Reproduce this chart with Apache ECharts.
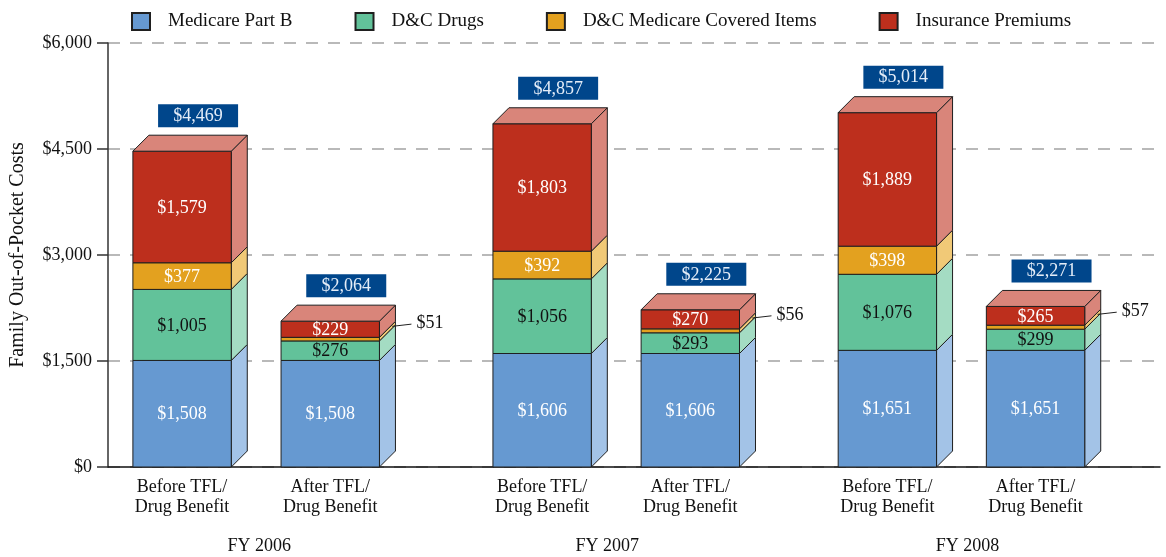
<!DOCTYPE html>
<html>
<head>
<meta charset="utf-8">
<script src="https://cdn.jsdelivr.net/npm/echarts@6/dist/echarts.min.js"></script>
<style>
    html, body { margin: 0; padding: 0; background: #fff; }
    #chart { width: 1166px; height: 557px; }
</style>
</head>
<body>
<div id="chart"></div>
<script>
var FONT = '"Liberation Serif", "DejaVu Serif", serif';

// bars, left to right
var barLabels = ['Before TFL/\nDrug Benefit', 'After TFL/\nDrug Benefit',
                 'Before TFL/\nDrug Benefit', 'After TFL/\nDrug Benefit',
                 'Before TFL/\nDrug Benefit', 'After TFL/\nDrug Benefit'];
var barPos = [0.5, 1.5, 2.93, 3.93, 5.26, 6.26];

var years = ['FY 2006', 'FY 2007', 'FY 2008'];
var yearPos = [1.02, 3.37, 5.8];

// stacked values, bottom to top
var partB    = [1508, 1508, 1606, 1606, 1651, 1651];
var drugs    = [1005, 276, 1056, 293, 1076, 299];
var covered  = [377, 51, 392, 56, 398, 57];
var premiums = [1579, 229, 1803, 270, 1889, 265];
var totals   = [4469, 2064, 4857, 2225, 5014, 2271];

var seriesNames = ['Medicare Part B', 'D&C Drugs', 'D&C Medicare Covered Items', 'Insurance Premiums'];
var seriesValues = [partB, drugs, covered, premiums];
var frontColors = ['#6699d1', '#62c29a', '#e3a11f', '#bd2f1d'];
var sideColors  = ['#a3c3e7', '#a4dcc3', '#f1c977', '#d9857a'];
var labelColors = ['#ffffff', '#111111', '#ffffff', '#ffffff'];

var D = 16;          // depth of the 3d faces, px
var BAR_W = 0.664;   // bar width in x units
var EDGE = '#1f1f1f';

function money(v) {
    return '$' + v.toLocaleString('en-US');
}

function segmentRenderer(s) {
    return function (params, api) {
        var x = api.value(0), lo = api.value(1), hi = api.value(2), v = api.value(3);
        var pLo = api.coord([x, lo]);
        var pHi = api.coord([x, hi]);
        var w = api.size([BAR_W, 0])[0];
        var l = pLo[0] - w / 2, r = pLo[0] + w / 2, b = pLo[1], t = pHi[1];
        var kids = [
            {
                type: 'polygon',
                shape: { points: [[r, b], [r + D, b - D], [r + D, t - D], [r, t]] },
                style: { fill: sideColors[s], stroke: EDGE, lineWidth: 1 }
            },
            {
                type: 'rect',
                shape: { x: l, y: t, width: w, height: b - t },
                style: { fill: frontColors[s], stroke: EDGE, lineWidth: 1 }
            }
        ];
        if (s === seriesValues.length - 1) {
            kids.push({
                type: 'polygon',
                shape: { points: [[l, t], [l + D, t - D], [r + D, t - D], [r, t]] },
                style: { fill: sideColors[s], stroke: EDGE, lineWidth: 1 }
            });
        }
        var mid = (b + t) / 2;
        if (b - t >= 14) {
            kids.push({
                type: 'text',
                style: {
                    text: money(v), x: (l + r) / 2, y: mid + 1,
                    align: 'center', verticalAlign: 'middle',
                    fill: labelColors[s], fontSize: 18, fontFamily: FONT
                }
            });
        } else {
            // small slice: label out to the right with a leader line
            kids.push({
                type: 'line',
                shape: { x1: r + D * 0.8, y1: mid - D * 0.8, x2: r + 32, y2: mid - 15 },
                style: { stroke: '#222', lineWidth: 1 }
            });
            kids.push({
                type: 'text',
                style: {
                    text: money(v), x: r + 37, y: mid - 16,
                    align: 'left', verticalAlign: 'middle',
                    fill: '#111', fontSize: 18, fontFamily: FONT
                }
            });
        }
        return { type: 'group', children: kids };
    };
}

var series = seriesNames.map(function (name, s) {
    var data = barPos.map(function (x, i) {
        var base = 0;
        for (var k = 0; k < s; k++) base += seriesValues[k][i];
        return [x, base, base + seriesValues[s][i], seriesValues[s][i]];
    });
    return {
        name: name,
        type: 'custom',
        renderItem: segmentRenderer(s),
        itemStyle: { color: frontColors[s], borderColor: EDGE, borderWidth: 1 },
        encode: { x: 0, y: [1, 2] },
        data: data,
        z: 3
    };
});

// totals boxes above the bars
series.push({
    name: 'totals',
    type: 'custom',
    z: 4,
    encode: { x: 0, y: 1 },
    data: barPos.map(function (x, i) { return [x, totals[i]]; }),
    renderItem: function (params, api) {
        var p = api.coord([api.value(0), api.value(1)]);
        var cx = p[0] + D, bottom = p[1] - D - 8;
        return {
            type: 'group',
            children: [
                { type: 'rect', shape: { x: cx - 40, y: bottom - 23, width: 80, height: 23 },
                  style: { fill: '#00468b' } },
                { type: 'text', style: {
                    text: money(api.value(1)), x: cx, y: bottom - 11,
                    align: 'center', verticalAlign: 'middle',
                    fill: '#e4edf8', fontSize: 18, fontFamily: FONT } }
            ]
        };
    }
});

// category labels under each bar
series.push({
    name: 'barLabels',
    type: 'custom',
    encode: { x: 0, y: 1 },
    data: barPos.map(function (x, i) { return [x, 0, i]; }),
    renderItem: function (params, api) {
        var p = api.coord([api.value(0), 0]);
        return {
            type: 'text',
            style: {
                text: barLabels[api.value(2)], x: p[0], y: p[1] + 10,
                align: 'center', verticalAlign: 'top', lineHeight: 20,
                fill: '#111', fontSize: 18, fontFamily: FONT
            }
        };
    }
});

// fiscal year labels
series.push({
    name: 'years',
    type: 'custom',
    encode: { x: 0, y: 1 },
    data: yearPos.map(function (x, k) { return [x, 0, k]; }),
    renderItem: function (params, api) {
        var p = api.coord([api.value(0), 0]);
        return {
            type: 'text',
            style: {
                text: years[api.value(2)], x: p[0], y: p[1] + 79,
                align: 'center', verticalAlign: 'middle',
                fill: '#111', fontSize: 18, fontFamily: FONT
            }
        };
    }
});

var chart = echarts.init(document.getElementById('chart'));
chart.setOption({
    animation: false,
    legend: {
        data: seriesNames,
        left: 126,
        top: 7,
        itemWidth: 18,
        itemHeight: 17,
        itemGap: 62,
        icon: 'rect',
        textStyle: { fontSize: 19, fontFamily: FONT, color: '#111', padding: [0, 0, 0, 13] }
    },
    grid: { left: 107, right: 6, top: 43, bottom: 90 },
    xAxis: {
        type: 'value',
        min: 0,
        max: 7.1,
        axisLine: { show: true, onZero: true, lineStyle: { color: '#111', width: 1.5 } },
        axisTick: { show: false },
        axisLabel: { show: false },
        splitLine: { show: false }
    },
    yAxis: {
        type: 'value',
        min: 0,
        max: 6000,
        interval: 1500,
        name: 'Family Out-of-Pocket Costs',
        nameLocation: 'middle',
        nameGap: 80,
        nameTextStyle: { fontSize: 20, fontFamily: FONT, color: '#111' },
        axisLine: { show: true, lineStyle: { color: '#333', width: 1.5 } },
        axisTick: { show: true, length: 11, lineStyle: { color: '#333', width: 1.5 } },
        axisLabel: {
            margin: 16, fontSize: 18, fontFamily: FONT, color: '#111',
            formatter: function (v) { return money(v); }
        },
        splitLine: { show: true, lineStyle: { color: '#a3a3a3', width: 1.5, type: [12, 10] } }
    },
    series: series
});
</script>
</body>
</html>
